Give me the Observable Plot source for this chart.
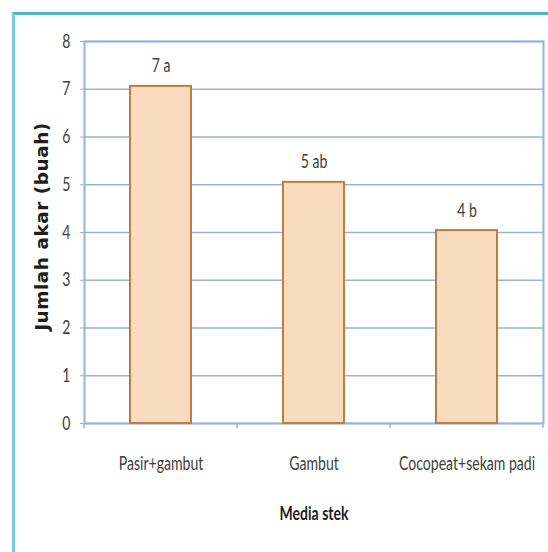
<!DOCTYPE html>
<html>
<head>
<meta charset="utf-8">
<script src="https://cdn.jsdelivr.net/npm/d3@7"></script>
<script src="https://cdn.jsdelivr.net/npm/@observablehq/plot@0.6"></script>
<style>
  html, body { margin: 0; padding: 0; background: #ffffff; }
  #wrap { position: relative; width: 548px; height: 552px; overflow: hidden; }
  #frame { position: absolute; left: 12px; top: 12px; width: 600px; height: 600px;
           border-top: 3px solid #55b6c5; border-left: 3px solid #76cbe0; pointer-events: none; }
  svg { display: block; }
</style>
</head>
<body>
<div id="wrap"><div id="frame"></div></div>
<script>
const categories = ["Pasir+gambut", "Gambut", "Cocopeat+sekam padi"];
const values = [7.06, 5.05, 4.04];
const barLabels = ["7 a", "5 ab", "4 b"];
const yTicks = [0, 1, 2, 3, 4, 5, 6, 7, 8];
const yLabel = "Jumlah akar (buah)";
const xLabel = "Media stek";

const data = categories.map((c, i) => ({cat: c, value: values[i], label: barLabels[i]}));

const font = "Lato, 'Open Sans', sans-serif";
const squeeze = 0.74;
const gridColor = "#93b4dc";

// category boundary ticks on x axis (Excel-style, between categories)
function boundaryTicks(index, scales, values, dims) {
  const x = scales.x;
  const step = x.step();
  const bw = x.bandwidth();
  const y0 = dims.height - dims.marginBottom;
  const g = d3.create("svg:g");
  const positions = [dims.marginLeft].concat(categories.map(c => x(c) + bw / 2 + step / 2));
  for (const p of positions) {
    g.append("line").attr("x1", p).attr("x2", p).attr("y1", y0).attr("y2", y0 + 5)
      .attr("stroke", gridColor).attr("stroke-width", 1.5);
  }
  return g.node();
}

const chart = Plot.plot({
  width: 548,
  height: 552,
  marginLeft: 84,
  marginRight: 5,
  marginTop: 41,
  marginBottom: 129,
  style: {fontFamily: font, background: "transparent", color: "#404040"},
  x: {domain: categories, paddingInner: 0.6, paddingOuter: 0.3, axis: null},
  y: {domain: [0, 8], axis: null},
  marks: [
    Plot.gridY(yTicks, {stroke: gridColor, strokeOpacity: 1, strokeWidth: 1.5}),
    Plot.frame({stroke: gridColor, strokeWidth: 2}),
    Plot.axisY(yTicks, {tickSize: 4, tickPadding: 10, fontSize: 19, stroke: gridColor, fill: "#404040", tickFormat: d => String(d), label: null}),
    boundaryTicks,
    Plot.barY(data, {x: "cat", y: "value", fill: "#f9dcbf", stroke: "#c47a3c", strokeWidth: 2}),
    Plot.text(data, {x: "cat", y: "value", text: "label", lineAnchor: "bottom", dy: -14, fontSize: 19, fill: "#404040"}),
    Plot.text(categories, {x: d => d, frameAnchor: "bottom", lineAnchor: "middle", dy: 40, fontSize: 19, fill: "#404040"}),
    Plot.text([xLabel], {frameAnchor: "bottom", lineAnchor: "middle", dy: 90, fontSize: 19, fontWeight: "bold", fill: "#1e1e1e"}),
    Plot.text([yLabel], {frameAnchor: "left", textAnchor: "middle", lineAnchor: "middle", dx: -42, dy: -6, rotate: -90, fontSize: 18.5, fontWeight: "bold", fill: "#1e1e1e",
      fontFamily: "'DejaVu Sans', sans-serif"})
  ]
});

// horizontally condense all non-rotated labels (narrow, Calibri-like look)
d3.select(chart).selectAll("text").each(function() {
  const t = d3.select(this);
  const tr = t.attr("transform") || "";
  if (tr.includes("rotate")) { t.style("letter-spacing", "0.5px"); return; }
  if (tr) {
    t.attr("transform", tr + ` scale(${squeeze},1)`);
  } else {
    const x = +t.attr("x") || 0, y = +t.attr("y") || 0;
    t.attr("x", null).attr("y", null).attr("transform", `translate(${x},${y}) scale(${squeeze},1)`);
  }
});

document.getElementById("wrap").insertBefore(chart, document.getElementById("frame"));
</script>
</body>
</html>
